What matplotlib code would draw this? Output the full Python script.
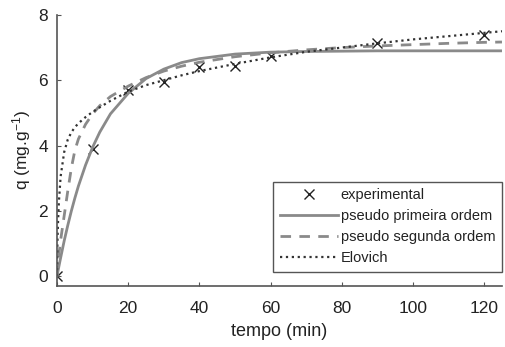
import matplotlib
matplotlib.use('Agg')
import matplotlib.pyplot as plt

plt.rcParams['font.family'] = ['Liberation Sans', 'DejaVu Sans']
plt.rcParams['mathtext.default'] = 'regular'

# experimental points
t_exp = [0, 10, 20, 30, 40, 50, 60, 90, 120]
q_exp = [0.0, 3.9, 5.7, 5.95, 6.4, 6.45, 6.75, 7.15, 7.4]

# fitted curves, values
t_fit = [0, 0.1, 0.25, 0.5, 1, 2, 3, 4, 5, 6, 8, 10, 12, 15, 20, 25, 30, 35,
         40, 50, 60, 70, 80, 90, 100, 110, 120, 125]
q_pfo = [0.0, 0.06, 0.15, 0.29, 0.56, 1.08, 1.55, 1.99, 2.39, 2.76, 3.40, 3.95,
         4.41, 4.97, 5.60, 6.05, 6.34, 6.54, 6.66, 6.80, 6.86, 6.88, 6.89, 6.90,
         6.90, 6.90, 6.90, 6.90]
q_pso = [0.0, 0.15, 0.35, 0.65, 1.10, 1.85, 2.60, 3.30, 3.85, 4.20, 4.65, 4.97,
         5.22, 5.50, 5.82, 6.08, 6.28, 6.43, 6.55, 6.72, 6.84, 6.93, 7.00, 7.05,
         7.09, 7.13, 7.16, 7.17]
q_elo = [0.0, 1.00, 1.60, 2.25, 3.05, 3.80, 4.18, 4.40, 4.56, 4.68, 4.87, 5.03,
         5.17, 5.37, 5.65, 5.85, 6.00, 6.15, 6.28, 6.50, 6.70, 6.87, 7.00, 7.13,
         7.25, 7.35, 7.45, 7.50]

fig = plt.figure(figsize=(5.05, 3.47), dpi=100)
ax = fig.add_axes([0.113, 0.176, 0.881, 0.781])

ax.plot(t_exp, q_exp, 'x', color='#222222', markersize=6.5, markeredgewidth=1.0,
        label='experimental')
ax.plot(t_fit, q_pfo, '-', color='#8a8a8a', linewidth=2, label='pseudo primeira ordem')
ax.plot(t_fit, q_pso, '--', color='#8a8a8a', linewidth=2, dashes=(3.8, 3.0),
        label='pseudo segunda ordem')
ax.plot(t_fit, q_elo, ':', color='#333333', linewidth=1.6, label='Elovich')

ax.set_xlim(0, 125)
ax.set_ylim(-0.3, 8)
ax.set_xticks([0, 20, 40, 60, 80, 100, 120])
ax.set_yticks([0, 2, 4, 6, 8])
ax.set_xlabel('tempo (min)', fontsize=13, color='#222222', labelpad=5)
ax.set_ylabel('q (mg.g$^{-1}$)', fontsize=12.5, color='#222222', labelpad=4)

for side in ['top', 'right']:
    ax.spines[side].set_visible(False)
for side in ['left', 'bottom']:
    ax.spines[side].set_color('#555555')
    ax.spines[side].set_linewidth(1.2)
ax.tick_params(direction='in', length=3, color='#555555', labelsize=12.5,
               labelcolor='#222222')
ax.tick_params(axis='x', pad=11)
ax.tick_params(axis='y', pad=6.5)

leg = ax.legend(loc='lower right', bbox_to_anchor=(1.0, 0.052), borderaxespad=0,
                fontsize=10.5, handlelength=4.0, fancybox=False, framealpha=1,
                edgecolor='#555555', borderpad=0.45, labelspacing=0.48,
                handletextpad=0.2)
leg.get_frame().set_linewidth(1.0)
for txt in leg.get_texts():
    txt.set_color('#222222')

plt.savefig('out.png', dpi=100)
